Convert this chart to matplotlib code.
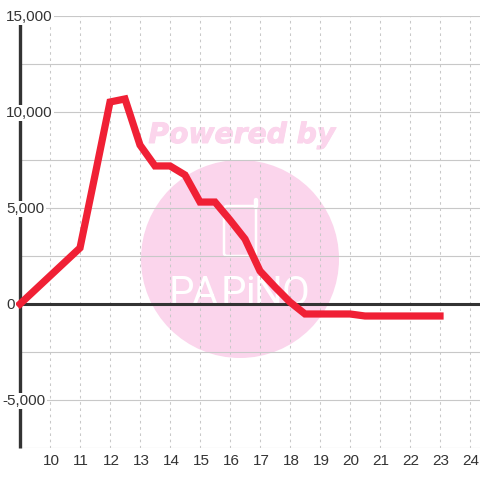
import matplotlib
matplotlib.use('Agg')
import matplotlib.pyplot as plt
import matplotlib.patheffects as pe
from matplotlib.patches import Circle, FancyBboxPatch
from matplotlib.transforms import ScaledTranslation

hours = [9, 9.5, 10, 10.5, 11, 11.5, 12, 12.5, 13, 13.5, 14, 14.5, 15, 15.5, 16,
         16.5, 17, 17.5, 18, 18.5, 19, 19.5, 20, 20.5, 21, 21.5, 22, 22.5, 23]
values = [0, 730, 1460, 2190, 2920, 6700, 10520, 10680, 8280, 7190, 7190, 6720, 5310, 5310, 4375,
          3385, 1720, 885, 100, -520, -520, -520, -520, -625, -625, -625, -625, -625, -625]
x_ticks = list(range(10, 25))
y_ticks = [-5000, 0, 5000, 10000, 15000]
y_grid = [-7500, -5000, -2500, 0, 2500, 5000, 7500, 10000, 12500, 15000]

plt.rcParams['font.family'] = ['Liberation Sans', 'DejaVu Sans']

fig = plt.figure(figsize=(4.8, 4.8), dpi=100)

# watermark sits behind the plot, drawn in pixel coordinates
bg = fig.add_axes([0, 0, 1, 1], zorder=0)
bg.set_xlim(0, 480)
bg.set_ylim(480, 0)
bg.axis('off')
pink = '#fbd5ec'
bg.add_patch(Circle((240, 259), 99, color=pink, lw=0))
bg.add_patch(FancyBboxPatch((224, 206), 32, 50, boxstyle='round,pad=0,rounding_size=3',
                            fc='none', ec='white', lw=1.8))
bg.plot([256, 256], [206, 200], color='white', lw=3.2, solid_capstyle='round')
for letter, lx in zip('PAPiNO', [181, 205, 233, 250, 268, 296]):
    bg.text(lx, 305, letter, color='white', fontsize=29, ha='center', va='baseline',
            family='Roboto')
bg.text(242, 135, 'Powered by', color=pink, fontsize=20.3, ha='center', va='center',
        family='DejaVu Sans', fontweight='bold', style='oblique',
        path_effects=[pe.withStroke(linewidth=0.7, foreground=pink)])

ax = fig.add_axes([20 / 480, 32 / 480, 460 / 480, 432 / 480], zorder=1)
ax.patch.set_alpha(0)
ax.set_xlim(9, 24.333)
ax.set_ylim(-7500, 15000)

for s in ax.spines.values():
    s.set_visible(False)

ax.set_yticks(y_grid)
ax.set_yticklabels([])
ax.set_xticks(x_ticks)
ax.tick_params(length=0, labelleft=False, pad=4, labelsize=11, labelcolor='#333333')
shift = ScaledTranslation(1 / 100, 0, fig.dpi_scale_trans)
for lab in ax.get_xticklabels():
    lab.set_transform(lab.get_transform() + shift)
ax.grid(axis='y', color='#c8c8c8', lw=0.8)
ax.grid(axis='x', color='#c8c8c8', lw=0.75, ls=(0, (2.5, 3.5)))
ax.set_axisbelow(True)

ax.plot([9, 9], [-7500, 14580], color='#333333', lw=2.4, solid_capstyle='butt', zorder=3, clip_on=False)
ax.axhline(0, color='#333333', lw=2.2, zorder=3)
ax.plot(hours, values, color='#f02035', lw=5.2, solid_joinstyle='miter', solid_capstyle='projecting',
        zorder=4, clip_on=False)

for v in y_ticks:
    ax.annotate(f'{v:,}', (9, v), xytext=(-14 if v >= 0 else -18, -1), textcoords='offset pixels',
                ha='left', va='center', fontsize=11, color='#333333', zorder=5, annotation_clip=False,
                bbox=dict(fc='white', ec='none', pad=1))

fig.savefig('out.png', dpi=100)
